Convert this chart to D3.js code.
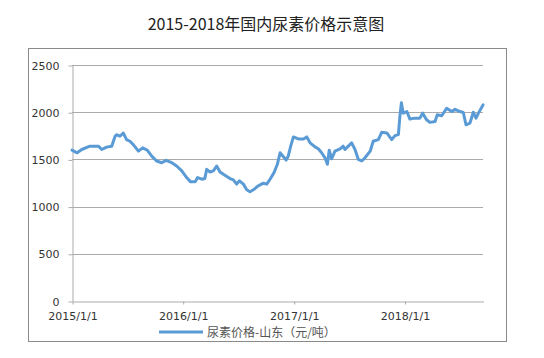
<!DOCTYPE html>
<html>
<head>
<meta charset="utf-8">
<script src="https://cdn.jsdelivr.net/npm/d3@7.9.0/dist/d3.min.js"></script>
<style>
  body { margin: 0; background: #fff; }
  svg { display: block; }
</style>
</head>
<body>
<svg id="chart" width="544" height="358"></svg>
<script>
// DATA
const title = '2015-2018年国内尿素价格示意图';
const seriesName = '尿素价格-山东（元/吨）';
const dates = [
  '2015-01-01', '2015-01-18', '2015-02-02', '2015-03-01', '2015-03-29', '2015-04-09',
  '2015-04-25', '2015-05-12', '2015-05-23', '2015-05-28', '2015-06-08', '2015-06-19',
  '2015-06-30', '2015-07-11', '2015-07-22', '2015-08-08', '2015-08-22', '2015-09-06',
  '2015-09-21', '2015-10-07', '2015-10-24', '2015-11-07', '2015-11-26', '2015-12-12',
  '2015-12-29', '2016-01-14', '2016-01-27', '2016-02-11', '2016-02-19', '2016-03-04',
  '2016-03-14', '2016-03-20', '2016-03-31', '2016-04-11', '2016-04-22', '2016-05-03',
  '2016-05-19', '2016-06-05', '2016-06-16', '2016-06-27', '2016-07-06', '2016-07-19',
  '2016-07-30', '2016-08-10', '2016-08-21', '2016-09-06', '2016-09-23', '2016-10-04',
  '2016-10-15', '2016-10-28', '2016-11-08', '2016-11-17', '2016-11-28', '2016-12-07',
  '2016-12-14', '2016-12-22', '2016-12-31', '2017-01-16', '2017-02-02', '2017-02-13',
  '2017-02-24', '2017-03-12', '2017-03-23', '2017-04-03', '2017-04-14', '2017-04-22',
  '2017-04-28', '2017-05-06', '2017-05-17', '2017-06-03', '2017-06-13', '2017-06-19',
  '2017-06-30', '2017-07-11', '2017-07-22', '2017-08-02', '2017-08-13', '2017-08-24',
  '2017-09-10', '2017-09-20', '2017-10-07', '2017-10-18', '2017-11-04', '2017-11-20',
  '2017-12-01', '2017-12-12', '2017-12-17', '2017-12-22', '2017-12-28', '2018-01-09',
  '2018-01-19', '2018-02-05', '2018-02-21', '2018-03-02', '2018-03-15', '2018-03-26',
  '2018-04-12', '2018-04-19', '2018-05-04', '2018-05-20', '2018-06-06', '2018-06-17',
  '2018-07-03', '2018-07-14', '2018-07-23', '2018-08-05', '2018-08-16', '2018-08-25',
  '2018-09-02', '2018-09-17'
];
const prices = [
  1598, 1570, 1605, 1640, 1640, 1605,
  1630, 1640, 1745, 1762, 1745, 1780,
  1710, 1692, 1657, 1587, 1622, 1598,
  1535, 1483, 1465, 1490, 1465, 1430,
  1378, 1308, 1262, 1262, 1308, 1290,
  1297, 1395, 1367, 1378, 1430, 1367,
  1332, 1297, 1283, 1238, 1273, 1238,
  1178, 1157, 1178, 1220, 1248, 1238,
  1290, 1360, 1448, 1570, 1528, 1493,
  1535, 1640, 1738, 1717, 1717, 1738,
  1675, 1633, 1612, 1570, 1517, 1448,
  1598, 1507, 1587, 1612, 1640, 1605,
  1640, 1675, 1605, 1500, 1483, 1517,
  1587, 1692, 1710, 1787, 1780, 1710,
  1752, 1762, 1955, 2101, 1990, 2007,
  1927, 1937, 1937, 1990, 1920, 1892,
  1902, 1972, 1962, 2042, 2007, 2031,
  2007, 1997, 1867, 1885, 2000, 1937,
  1990, 2077
];
const yTicks = [0, 500, 1000, 1500, 2000, 2500];
const xTickLabels = ['2015/1/1', '2016/1/1', '2017/1/1', '2018/1/1'];

const parse = d3.timeParse('%Y-%m-%d');
const data = dates.map((d, i) => ({ date: parse(d), value: prices[i] }));
const xTicks = xTickLabels.map(d => d3.timeParse('%Y/%m/%d')(d));

const svg = d3.select('#chart');
const blue = '#5b9bd5';
const grid = '#ababab';
const textColor = '#333';

// outer frame
svg.append('rect')
  .attr('x', 28.5).attr('y', 48.5)
  .attr('width', 478).attr('height', 293)
  .attr('fill', 'none')
  .attr('stroke', '#8a8a8a');

// title
svg.append('text')
  .attr('x', 266).attr('y', 30)
  .attr('text-anchor', 'middle')
  .attr('font-family', '"Noto Sans CJK SC", sans-serif')
  .attr('font-size', 16)
  .attr('fill', '#222')
  .text(title);

// scales
const x = d3.scaleTime()
  .domain([parse('2015-01-01'), data[data.length - 1].date])
  .range([72, 483]);

const y = d3.scaleLinear()
  .domain([0, 2500])
  .range([301, 65]);

// gridlines
svg.append('g')
  .selectAll('line')
  .data(yTicks.filter(d => d > 0))
  .join('line')
  .attr('x1', 72).attr('x2', 483)
  .attr('y1', d => Math.round(y(d)) + 0.5)
  .attr('y2', d => Math.round(y(d)) + 0.5)
  .attr('stroke', grid);

// y axis
const yAxis = svg.append('g')
  .attr('transform', 'translate(72.5,0.5)')
  .call(d3.axisLeft(y).tickValues(yTicks).tickFormat(d3.format('d'))
    .tickSize(4).tickSizeOuter(0).tickPadding(9));

// x axis
const xAxis = svg.append('g')
  .attr('transform', `translate(0.5,${Math.round(y(0)) + 0.5})`)
  .call(d3.axisBottom(x).tickValues(xTicks).tickFormat((d, i) => xTickLabels[i])
    .tickSize(3).tickSizeOuter(0).tickPadding(8));

[yAxis, xAxis].forEach(g => {
  g.select('.domain').attr('stroke', grid);
  g.selectAll('.tick line').attr('stroke', grid);
  g.selectAll('.tick text')
    .attr('fill', textColor)
    .attr('font-family', '"DejaVu Sans", sans-serif')
    .attr('font-size', 11);
});

// price line
const line = d3.line()
  .x(d => x(d.date))
  .y(d => y(d.value));

svg.append('path')
  .datum(data)
  .attr('d', line)
  .attr('fill', 'none')
  .attr('stroke', blue)
  .attr('stroke-width', 3)
  .attr('stroke-linejoin', 'round')
  .attr('stroke-linecap', 'round');

// legend
const legend = svg.append('g').attr('transform', 'translate(159,332)');
legend.append('line')
  .attr('x1', 0).attr('x2', 44)
  .attr('stroke', blue)
  .attr('stroke-width', 3);
legend.append('text')
  .attr('x', 48).attr('y', 4.5)
  .attr('font-family', '"Noto Sans CJK SC", sans-serif')
  .attr('font-size', 12)
  .attr('fill', '#555')
  .text(seriesName);
</script>
</body>
</html>
